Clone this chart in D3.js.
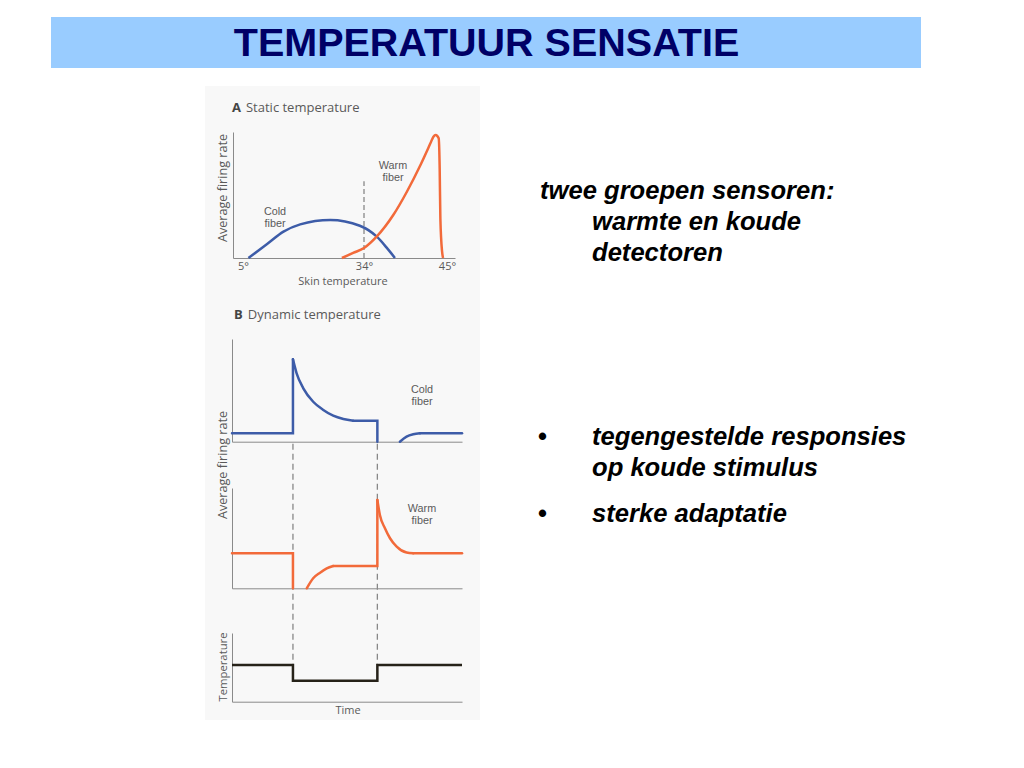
<!DOCTYPE html>
<html>
<head>
<meta charset="utf-8">
<script src="https://cdn.jsdelivr.net/npm/d3@7"></script>
<style>
  body { margin: 0; background: #fff; }
  svg { display: block; }
  .fig text { font-family: "Open Sans", "Liberation Sans", sans-serif; fill: #5a5a5a; }
  .fig text.flabel { font-family: "Liberation Sans", Arial, sans-serif; }
  .slide text.body { font-family: "Liberation Sans", Arial, sans-serif; font-weight: bold; font-style: italic; font-size: 25.6px; fill: #000; }
</style>
</head>
<body>
<svg id="chart" width="1024" height="768"></svg>
<script>
// ---- data ----
// panel A: skin temperature (deg C) vs average firing rate (0-100)
const tempTicks = [5, 34, 45];
const coldStatic = [[6.3, 0], [10.7, 10.9], [14.7, 20.9], [18.7, 26.7], [25.9, 30.2], [33.0, 25.6], [35.7, 16.9], [37.0, 8.2], [38.1, 0]];
const warmStatic = [[28.7, 0], [31.4, 4], [34, 7.9], [35.7, 17.1], [37.9, 34.3], [39.7, 52.8], [41.5, 74], [42.8, 91], [43.2, 96.3],
                    [43.5, 97.6], [43.9, 95], [44.03, 71], [44.12, 31.5], [44.35, 5], [44.48, 0]];

// panel B: time (0-100) vs rate; pieces alternate straight / smooth,
// the stretches lying on the zero line are not drawn
const stepTimes = [26.5, 63.2];
const coldDynamic = [
    [[0, 8.2], [26.5, 8.2], [26.5, 80.2]],
    [[26.5, 80.2], [28.1, 66.6], [31.0, 52.0], [35.3, 38.9], [39.7, 30.9], [44.0, 25.3], [48.4, 22.1], [52.7, 20.4]],
    [[52.7, 20.4], [63.2, 20.4], [63.2, 0]],
    [[73.0, 0], [75.9, 4.9], [78.8, 7.2], [81.7, 8.2]],
    [[81.7, 8.2], [100, 8.2]]
];
const warmDynamic = [
    [[0, 34.9], [26.5, 34.9], [26.5, 0]],
    [[32.5, 0], [35.3, 10], [38.3, 15.6], [41.2, 19.9], [44.0, 22.3]],
    [[44.0, 22.3], [63.2, 22.3], [63.2, 88]],
    [[63.2, 88], [64.3, 73.1], [66.5, 59.8], [68.7, 49.9], [71.6, 41.5], [75.9, 35.6], [78.8, 34.9]],
    [[78.8, 34.9], [100, 34.9]]
];
const tempTrace = [[0, 53.4], [26.5, 53.4], [26.5, 30.5], [63.2, 30.5], [63.2, 53.4], [100, 53.4]];

const titleText = "TEMPERATUUR SENSATIE";
const introLines = ["twee groepen sensoren:", "warmte en koude", "detectoren"];
const bulletLines = [["tegengestelde responsies", "op koude stimulus"], ["sterke adaptatie"]];

const blue = "#3d5ca8", orange = "#f26a3a", dark = "#262219", axisGray = "#8a8a8a";

const svg = d3.select("#chart");
const slide = svg.append("g").attr("class", "slide");

// title bar
slide.append("rect").attr("x", 51).attr("y", 17).attr("width", 870).attr("height", 51).attr("fill", "#99ccff");
slide.append("text")
    .attr("x", 486.5).attr("y", 56)
    .attr("text-anchor", "middle")
    .style("font-family", "'Liberation Sans', Arial, sans-serif")
    .style("font-weight", "bold")
    .style("font-size", "39.5px")
    .style("fill", "#000066")
    .text(titleText);

// right hand text
slide.selectAll(".intro")
    .data(introLines)
    .enter().append("text")
    .attr("class", "body intro")
    .attr("x", (d, i) => i === 0 ? 540 : 592)
    .attr("y", (d, i) => 199 + i * 31)
    .text(d => d);

const bulletTop = [445, 522];
bulletLines.forEach((lines, b) => {
    slide.append("text").attr("class", "body").attr("x", 538).attr("y", bulletTop[b])
        .style("font-style", "normal").text("\u2022");
    lines.forEach((l, i) => {
        slide.append("text").attr("class", "body").attr("x", 592).attr("y", bulletTop[b] + i * 31).text(l);
    });
});

// ---- figure ----
const fig = svg.append("g").attr("class", "fig");
fig.append("rect").attr("x", 205).attr("y", 86).attr("width", 275).attr("height", 634).attr("fill", "#f8f8f8");

function styleAxis(g) {
    g.select(".domain").attr("stroke", axisGray).attr("stroke-width", 1);
    g.selectAll(".tick line").remove();
    g.selectAll(".tick text").style("font-family", "'Open Sans', sans-serif").style("font-size", "11px").attr("fill", "#5a5a5a");
}

function panelTitle(letter, rest, x, y) {
    const t = fig.append("text").attr("x", x).attr("y", y).style("font-size", "13px");
    t.append("tspan").style("font-weight", "bold").attr("fill", "#444").text(letter);
    t.append("tspan").attr("dx", 5).text(rest);
}

// two short lines, one text element each
function twoLine(x, y, a, b, gap) {
    [a, b].forEach((s, i) => {
        fig.append("text").attr("class", "flabel").attr("x", x).attr("y", y + i * gap)
            .attr("text-anchor", "middle").style("font-size", "10.8px").text(s);
    });
}

function yLabel(text, x, y, size) {
    fig.append("text")
        .attr("transform", `translate(${x},${y}) rotate(-90)`)
        .attr("text-anchor", "middle")
        .style("font-size", size + "px")
        .text(text);
}

// panel A
const xA = d3.scaleLinear().domain([2.6, 34, 46.06]).range([233, 364, 455]);
const yA = d3.scaleLinear().domain([0, 100]).range([258, 132]);

panelTitle("A", "Static temperature", 232, 112);

fig.append("g").attr("transform", `translate(0,${yA(0)})`)
    .call(d3.axisBottom(xA).tickValues(tempTicks).tickSize(0).tickPadding(4).tickFormat(d => d + "\u00b0"))
    .call(styleAxis);
fig.append("g").attr("transform", `translate(${xA.range()[0]},0)`)
    .call(d3.axisLeft(yA).tickValues([]).tickSizeOuter(0))
    .call(styleAxis);

fig.append("line")
    .attr("x1", xA(34)).attr("x2", xA(34))
    .attr("y1", yA(0)).attr("y2", yA(61))
    .attr("stroke", "#888").attr("stroke-width", 1.3).attr("stroke-dasharray", "5,3");

const lineA = d3.line().x(d => xA(d[0])).y(d => yA(d[1])).curve(d3.curveMonotoneX);
fig.append("path").datum(coldStatic).attr("d", lineA)
    .attr("fill", "none").attr("stroke", blue).attr("stroke-width", 2.5);
fig.append("path").datum(warmStatic).attr("d", lineA)
    .attr("fill", "none").attr("stroke", orange).attr("stroke-width", 2.5).attr("stroke-linejoin", "round");

fig.append("text").attr("x", 343).attr("y", 285).attr("text-anchor", "middle").style("font-size", "11px").text("Skin temperature");
yLabel("Average firing rate", 227, 188, 12.6);
twoLine(275, 215, "Cold", "fiber", 12);
twoLine(393, 169, "Warm", "fiber", 12);

// panel B
const xB = d3.scaleLinear().domain([0, 100]).range([232, 462]);
const yCold = d3.scaleLinear().domain([0, 100]).range([441.7, 339]);
const yWarm = d3.scaleLinear().domain([0, 100]).range([588.3, 488]);
const yTemp = d3.scaleLinear().domain([0, 100]).range([701.7, 633]);

panelTitle("B", "Dynamic temperature", 234, 319);

fig.selectAll(".stepline")
    .data(stepTimes)
    .enter().append("line")
    .attr("class", "stepline")
    .attr("x1", d => xB(d)).attr("x2", d => xB(d))
    .attr("y1", yCold(0) + 2).attr("y2", yTemp(53.4))
    .attr("stroke", "#888").attr("stroke-width", 1.3).attr("stroke-dasharray", "6,4");

[yCold, yWarm, yTemp].forEach(y => {
    fig.append("g").attr("transform", `translate(0,${y(0)})`)
        .call(d3.axisBottom(xB).tickValues([]).tickSizeOuter(0))
        .call(styleAxis);
    fig.append("g").attr("transform", `translate(${xB(0)},0)`)
        .call(d3.axisLeft(y).tickValues([]).tickSizeOuter(0))
        .call(styleAxis);
});

function drawPieces(pieces, y, color) {
    pieces.forEach((p, i) => {
        const line = d3.line().x(d => xB(d[0])).y(d => y(d[1]))
            .curve(i % 2 ? d3.curveMonotoneX : d3.curveLinear);
        fig.append("path").datum(p).attr("d", line)
            .attr("fill", "none").attr("stroke", color).attr("stroke-width", 2.5)
            .attr("stroke-linecap", "round");
    });
}
drawPieces(coldDynamic, yCold, blue);
drawPieces(warmDynamic, yWarm, orange);
fig.append("path").datum(tempTrace)
    .attr("d", d3.line().x(d => xB(d[0])).y(d => yTemp(d[1])))
    .attr("fill", "none").attr("stroke", dark).attr("stroke-width", 2.5);

twoLine(422, 393, "Cold", "fiber", 12);
twoLine(422, 512, "Warm", "fiber", 12);
yLabel("Average firing rate", 227, 465, 12.6);
yLabel("Temperature", 227, 667, 11.3);
fig.append("text").attr("x", 348).attr("y", 714).attr("text-anchor", "middle").style("font-size", "11px").text("Time");
</script>
</body>
</html>
